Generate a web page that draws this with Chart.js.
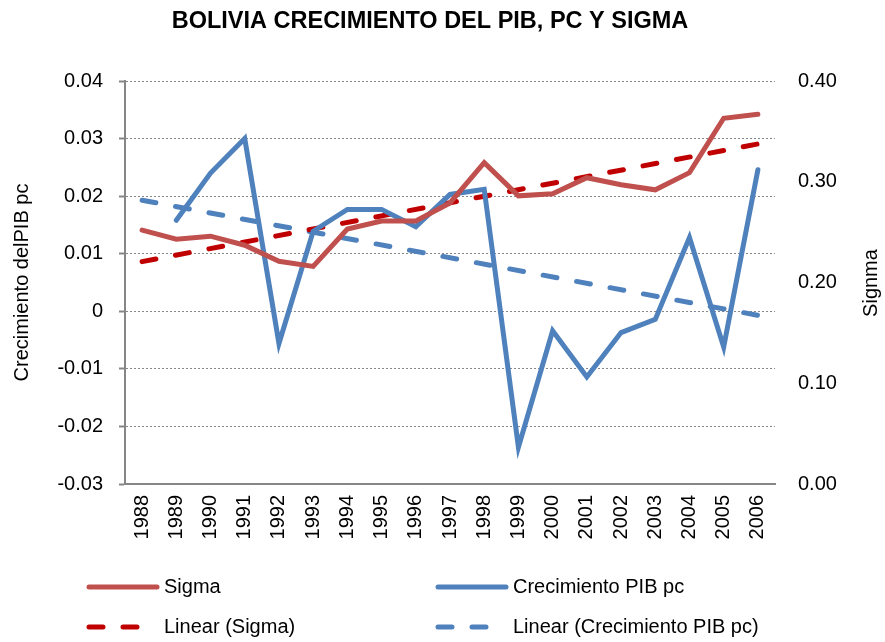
<!DOCTYPE html>
<html>
<head>
<meta charset="utf-8">
<script src="https://cdn.jsdelivr.net/npm/chart.js@4"></script>
<style>
  body { margin: 0; background: #fff; }
  #wrap { width: 885px; height: 642px; }
</style>
</head>
<body>
<div id="wrap"><canvas id="chart" width="885" height="642"></canvas></div>
<script>
// datos
const years = ['1988', '1989', '1990', '1991', '1992', '1993', '1994', '1995', '1996', '1997',
               '1998', '1999', '2000', '2001', '2002', '2003', '2004', '2005', '2006'];
const sigma = [0.252, 0.243, 0.246, 0.237, 0.221, 0.216, 0.253, 0.261, 0.261, 0.279,
               0.319, 0.286, 0.288, 0.304, 0.297, 0.292, 0.309, 0.363, 0.367];
const crecimientoPib = [null, 0.0158, 0.024, 0.030, -0.0056, 0.0139, 0.0177, 0.0177, 0.0147, 0.0203,
                        0.0212, -0.0236, -0.0034, -0.0114, -0.0037, -0.0014, 0.0128, -0.0062, 0.0246];
// extremos de las lineas de tendencia (1988 y 2006)
const sigmaTrendEnds = [0.2207, 0.3375];
const crecTrendEnds = [0.0193, -0.0007];

const leftTicks = { min: -0.03, max: 0.04, step: 0.01 };
const rightTicks = { min: 0, max: 0.40, step: 0.1 };

const FONT = 'Liberation Sans, Arial, sans-serif';
const GRAY = '#868686';

function trendSeries(ends) {
    const last = years.length - 1;
    return years.map((_, i) => i === 0 ? ends[0] : (i === last ? ends[1] : null));
}

// titulo, leyenda 2x2 y titulo del eje derecho
const extras = {
    id: 'extras',
    afterDraw(chart) {
        const ctx = chart.ctx;
        ctx.save();
        ctx.fillStyle = '#000';
        ctx.font = 'bold 23.5px ' + FONT;
        ctx.textAlign = 'center';
        ctx.textBaseline = 'middle';
        ctx.fillText('BOLIVIA CRECIMIENTO DEL PIB, PC Y SIGMA', 430, 22);

        const slots = [
            { x: 87, y: 587 }, { x: 436, y: 587 },
            { x: 87, y: 627 }, { x: 436, y: 627 }
        ];
        chart.data.datasets.forEach((ds, i) => {
            const s = slots[i];
            ctx.beginPath();
            ctx.lineWidth = ds.borderWidth;
            ctx.strokeStyle = ds.borderColor;
            ctx.lineCap = 'round';
            ctx.setLineDash(ds.borderDash || []);
            ctx.moveTo(s.x + 2, s.y);
            ctx.lineTo(s.x + 70, s.y);
            ctx.stroke();
            ctx.setLineDash([]);
            ctx.fillStyle = '#000';
            ctx.font = '20px ' + FONT;
            ctx.textBaseline = 'middle';
            ctx.textAlign = 'left';
            ctx.fillText(ds.label, s.x + 77, s.y);
        });

        ctx.translate(871, 283);
        ctx.rotate(-Math.PI / 2);
        ctx.textAlign = 'center';
        ctx.textBaseline = 'middle';
        ctx.font = '20px ' + FONT;
        ctx.fillText('Signma', 0, 0);
        ctx.restore();
    }
};

new Chart(document.getElementById('chart'), {
    type: 'line',
    data: {
        labels: years,
        datasets: [
            {
                label: 'Sigma',
                data: sigma,
                yAxisID: 'y1',
                borderColor: '#C0504D',
                borderWidth: 5,
                borderCapStyle: 'round',
                pointRadius: 0,
                tension: 0
            },
            {
                label: 'Crecimiento PIB pc',
                data: crecimientoPib,
                yAxisID: 'y',
                borderColor: '#4F81BD',
                borderWidth: 5,
                borderCapStyle: 'round',
                pointRadius: 0,
                tension: 0
            },
            {
                label: 'Linear (Sigma)',
                data: trendSeries(sigmaTrendEnds),
                yAxisID: 'y1',
                borderColor: '#C00000',
                borderWidth: 5,
                borderDash: [14, 20],
                borderCapStyle: 'round',
                spanGaps: true,
                pointRadius: 0,
                tension: 0
            },
            {
                label: 'Linear (Crecimiento PIB pc)',
                data: trendSeries(crecTrendEnds),
                yAxisID: 'y',
                borderColor: '#4F81BD',
                borderWidth: 5,
                borderDash: [14, 20],
                borderCapStyle: 'round',
                spanGaps: true,
                pointRadius: 0,
                tension: 0
            }
        ]
    },
    options: {
        responsive: false,
        animation: false,
        layout: { padding: { top: 81, left: 0, right: 0, bottom: 0 } },
        plugins: {
            legend: { display: false },
            tooltip: { enabled: false },
            title: { display: false }
        },
        scales: {
            x: {
                offset: true,
                grid: { display: false, drawTicks: false },
                border: { display: true, color: GRAY, width: 2 },
                ticks: {
                    color: '#000',
                    font: { family: FONT, size: 20 },
                    minRotation: 90,
                    maxRotation: 90,
                    padding: 11,
                    autoSkip: false
                },
                afterFit(scale) { scale.height = 158; }
            },
            y: {
                position: 'left',
                min: leftTicks.min,
                max: leftTicks.max,
                ticks: {
                    stepSize: leftTicks.step,
                    color: '#000',
                    font: { family: FONT, size: 20 },
                    padding: 16,
                    callback: v => {
                        const r = Math.round(v * 100) / 100;
                        return r === 0 ? '0' : r.toFixed(2);
                    }
                },
                grid: {
                    color: GRAY,
                    lineWidth: 1,
                    tickLength: 6,
                    tickColor: GRAY,
                    tickWidth: 2
                },
                border: { display: true, color: GRAY, width: 2, dash: [2, 2] },
                title: {
                    display: true,
                    text: 'Crecimiento delPIB pc',
                    color: '#000',
                    font: { family: FONT, size: 20 },
                    padding: { top: 10, bottom: 0 }
                },
                afterFit(scale) { scale.width = 125; }
            },
            y1: {
                position: 'right',
                min: rightTicks.min,
                max: rightTicks.max,
                ticks: {
                    stepSize: rightTicks.step,
                    color: '#000',
                    font: { family: FONT, size: 20 },
                    padding: 23,
                    callback: v => (Math.round(v * 100) / 100).toFixed(2)
                },
                grid: { display: false, drawOnChartArea: false, drawTicks: false },
                border: { display: false },
                afterFit(scale) { scale.width = 110; }
            }
        }
    },
    plugins: [extras]
});
</script>
</body>
</html>
